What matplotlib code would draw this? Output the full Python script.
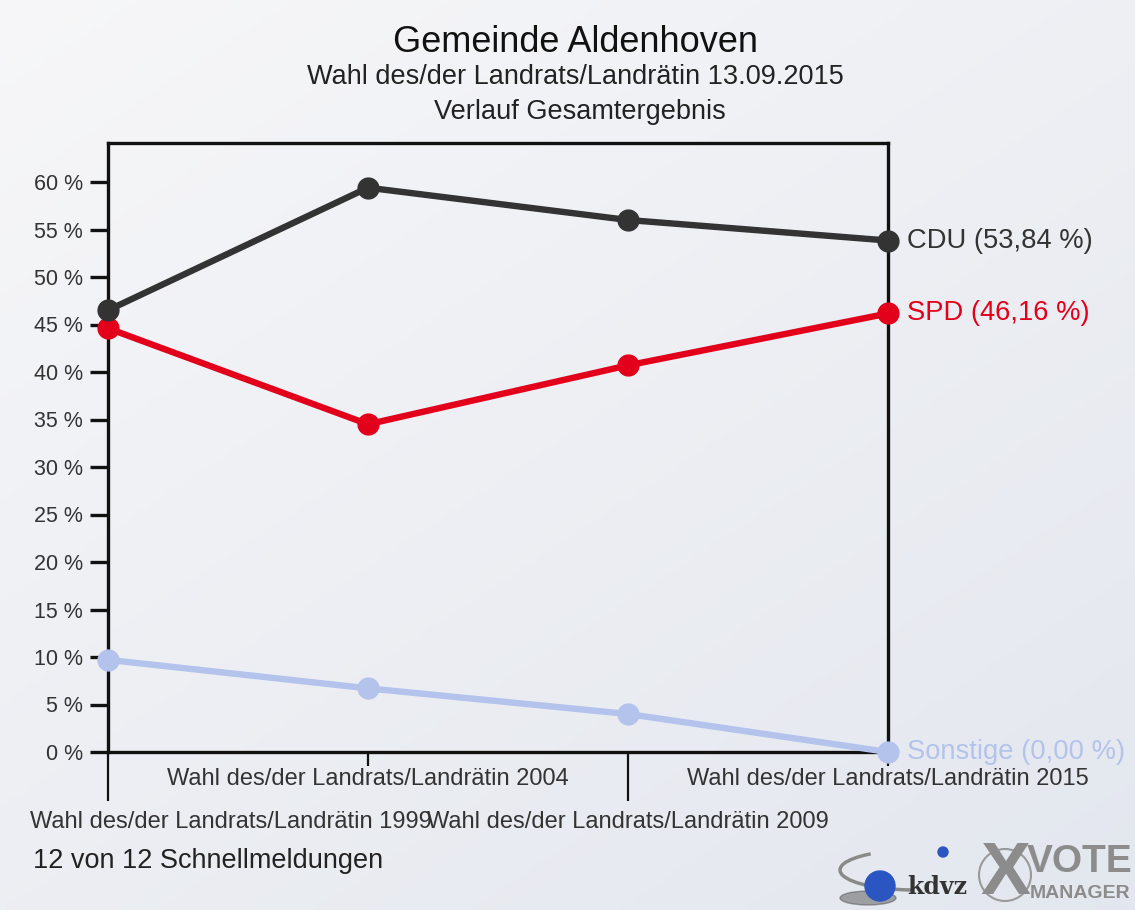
import numpy as np
import matplotlib
matplotlib.use("Agg")
import matplotlib.pyplot as plt
import matplotlib.transforms as mtransforms
from matplotlib.patches import Circle, Ellipse, Arc

plt.rcParams['font.family'] = ['Liberation Sans', 'DejaVu Sans']

categories = ["Wahl des/der Landrats/Landrätin 1999", "Wahl des/der Landrats/Landrätin 2004",
              "Wahl des/der Landrats/Landrätin 2009", "Wahl des/der Landrats/Landrätin 2015"]
cdu = [46.5, 59.4, 56.0, 53.84]
spd = [44.6, 34.5, 40.7, 46.16]
sonstige = [9.7, 6.7, 4.0, 0.0]
series_names = ["CDU", "SPD", "Sonstige"]
series_colors = ["#333333", "#e2001a", "#b3c3ec"]
end_labels = ["CDU (53,84 %)", "SPD (46,16 %)", "Sonstige (0,00 %)"]
yticks = list(range(0, 61, 5))
ytick_labels = [f"{v} %" for v in yticks]

W, H = 1135, 910
fig = plt.figure(figsize=(W / 100, H / 100), dpi=100)

# background gradient
bg = fig.add_axes([0, 0, 1, 1], zorder=-10)
yy, xx = np.mgrid[0:1:200j, 0:1:200j]
t = 0.55 * yy + 0.45 * xx
c0 = np.array([0.968, 0.968, 0.974])
c1 = np.array([0.890, 0.905, 0.935])
img = c0[None, None, :] * (1 - t[..., None]) + c1[None, None, :] * t[..., None]
bg.imshow(img, extent=[0, 1, 0, 1], aspect='auto', origin='upper')
bg.axis('off')

ax = fig.add_axes([108 / W, 1 - 752 / H, (888 - 108) / W, (752 - 143) / H])
ax.set_facecolor('none')
x = np.arange(len(categories))
for vals, col in zip([sonstige, spd, cdu], [series_colors[2], series_colors[1], series_colors[0]]):
    ax.plot(x, vals, color=col, lw=4.6, marker='o', ms=15, clip_on=False, zorder=5)

ax.set_xlim(0, 3)
ax.set_ylim(0, (752 - 143) / 9.5)
for s in ax.spines.values():
    s.set_linewidth(2.4)
    s.set_color('#111111')
ax.set_yticks(yticks)
ax.set_yticklabels(ytick_labels)
ax.tick_params(axis='y', direction='out', length=13, width=2.4, color='#111111',
               labelsize=15.5, labelcolor='#333333', pad=5)

ax.set_xticks([0, 2])
ax.set_xticklabels([])
ax.set_xticks([1, 3], minor=True)
ax.set_xticklabels([], minor=True)
ax.tick_params(axis='x', which='major', direction='out', length=35, width=1.6, color='#111111')
ax.tick_params(axis='x', which='minor', direction='out', length=10, width=1.6, color='#111111')

# category labels (alternating rows)
trans = mtransforms.blended_transform_factory(ax.transData, fig.transFigure)
row_y = [1 - 822 / H, 1 - 779 / H]
for i, lab in enumerate(categories):
    if i == 0:
        fig.text(30 / W, row_y[0], lab, ha='left', va='center', fontsize=17, color='#333333')
    else:
        ax.text(i, row_y[i % 2], lab, transform=trans, ha='center', va='center',
                fontsize=17, color='#333333')

for vals, lab, col in zip([cdu, spd, sonstige], end_labels, series_colors):
    ax.annotate(lab, xy=(3, vals[-1]), xytext=(14, 0), textcoords='offset points',
                ha='left', va='center', fontsize=19.7, color=col, annotation_clip=False)

fig.text(575 / W, 1 - 42 / H, "Gemeinde Aldenhoven", ha='center', va='center', fontsize=26, color='#111111')
fig.text(575 / W, 1 - 77 / H, "Wahl des/der Landrats/Landrätin 13.09.2015", ha='center', va='center', fontsize=19.5, color='#222222')
fig.text(580 / W, 1 - 112 / H, "Verlauf Gesamtergebnis", ha='center', va='center', fontsize=19.5, color='#222222')
fig.text(33 / W, 1 - 861 / H, "12 von 12 Schnellmeldungen", ha='left', va='center', fontsize=19.5, color='#222222')

# logos
lg = fig.add_axes([0, 0, 1, 1], zorder=-5)
lg.set_xlim(0, W)
lg.set_ylim(H, 0)
lg.axis('off')
lg.add_patch(Arc((915, 870), 150, 40, theta1=100, theta2=200, color='#8a8a8a', lw=2.5))
lg.add_patch(Ellipse((868, 898), 56, 14, color='#444444', alpha=0.45))
lg.add_patch(Circle((880, 886), 15, color='#2b55c0'))
lg.add_patch(Circle((943, 852), 5, color='#2b55c0'))
lg.text(907, 887, "kdvz", fontsize=17, fontweight='bold', family='DejaVu Serif', color='#333333', va='center')
lg.add_patch(Circle((1005, 875), 26, fill=False, ec='#9a9a9a', lw=1.5))
lg.text(1005, 875, "X", fontsize=54, fontweight='bold', color='#8c8c8c', ha='center', va='center')
lg.text(1027, 862, "VOTE", fontsize=28, fontweight='bold', color='#8c8c8c', ha='left', va='center')
lg.text(1030, 893, "MANAGER", fontsize=14, fontweight='bold', color='#8c8c8c', ha='left', va='center')

fig.savefig("out.png", dpi=100)
